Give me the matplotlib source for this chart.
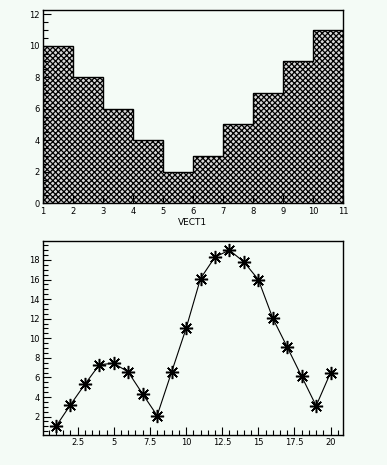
import numpy as np
import matplotlib
matplotlib.use('Agg')
import matplotlib.pyplot as plt
from matplotlib.ticker import MultipleLocator, FuncFormatter

# histogram VECT1
bin_edges = [1, 2, 3, 4, 5, 6, 7, 8, 9, 10, 11]
counts = [10, 8, 6, 4, 2, 3, 5, 7, 9, 11]

# graph points
gx = [1, 2, 3, 4, 5, 6, 7, 8, 9, 10, 11, 12, 13, 14, 15, 16, 17, 18, 19, 20]
gy = [1.0, 3.2, 5.3, 7.3, 7.45, 6.55, 4.3, 2.1, 6.55, 11.0,
      16.1, 18.3, 19.0, 17.8, 16.0, 12.05, 9.1, 6.1, 3.1, 6.5]

bg = '#f4fbf6'
plt.rcParams['hatch.linewidth'] = 0.9

fig = plt.figure(figsize=(3.87, 4.65), dpi=100)
fig.patch.set_facecolor(bg)

ax1 = fig.add_axes([0.111, 0.563, 0.775, 0.415])
ax2 = fig.add_axes([0.111, 0.0645, 0.775, 0.4175])

for ax in (ax1, ax2):
    ax.set_facecolor(bg)
    for s in ax.spines.values():
        s.set_linewidth(1.0)
        s.set_color('black')
    ax.tick_params(which='both', direction='in', top=False, right=False,
                   labelsize=6, pad=2.5, width=0.8, color='black')
    ax.tick_params(which='major', length=6)
    ax.tick_params(which='minor', length=3.5)

# top: histogram
ax1.stairs(counts, bin_edges, fill=True, facecolor='#d8d8d8', edgecolor='black',
           hatch='xxxxxx', linewidth=0)
ax1.stairs(counts, bin_edges, fill=False, edgecolor='black', linewidth=1.0)
ax1.set_xlim(1, 11)
ax1.set_ylim(0, 12.25)
ax1.xaxis.set_major_locator(MultipleLocator(1))
ax1.yaxis.set_major_locator(MultipleLocator(2))
ax1.yaxis.set_minor_locator(MultipleLocator(0.5))
ax1.set_xlabel('VECT1', fontsize=6.5, labelpad=2)

# bottom: graph
ax2.plot(gx, gy, color='black', linewidth=0.8, marker=(8, 2, 0),
         markersize=9.5, markeredgewidth=1.1)
ax2.set_xlim(0.1, 20.85)
ax2.set_ylim(0.12, 19.95)
ax2.xaxis.set_major_locator(MultipleLocator(2.5))
ax2.xaxis.set_minor_locator(MultipleLocator(0.5))
ax2.yaxis.set_major_locator(MultipleLocator(2))
ax2.yaxis.set_minor_locator(MultipleLocator(0.5))
ax2.xaxis.set_major_formatter(FuncFormatter(lambda v, p: ('%g' % v) if v > 0.5 else ''))
ax2.yaxis.set_major_formatter(FuncFormatter(lambda v, p: ('%g' % v) if 1 < v < 19 else ''))

fig.savefig('out.png', dpi=100, facecolor=bg)
